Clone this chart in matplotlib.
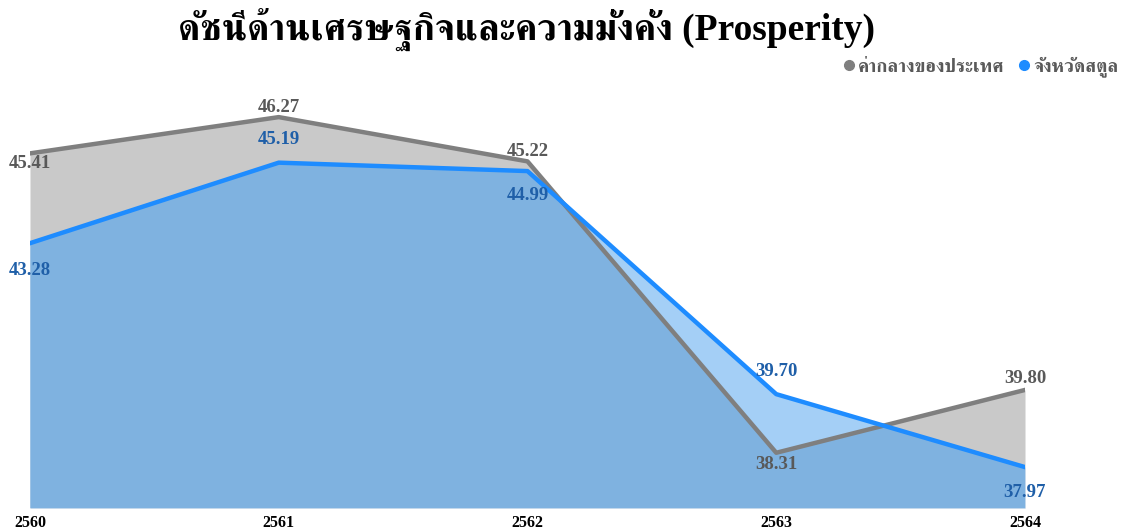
import matplotlib
matplotlib.use("Agg")
import matplotlib.pyplot as plt
from matplotlib import font_manager
from matplotlib.lines import Line2D
import numpy as np

years = ["2560", "2561", "2562", "2563", "2564"]
national = [45.41, 46.27, 45.22, 38.31, 39.80]
satun = [43.28, 45.19, 44.99, 39.70, 37.97]
series_names = ["ค่ากลางของประเทศ", "จังหวัดสตูล"]
title = "ดัชนีด้านเศรษฐกิจและความมั่งคั่ง (Prosperity)"

# find a font with Thai glyphs
thai_font = None
try:
    from fontTools.ttLib import TTFont
    cands = []
    for f in font_manager.fontManager.ttflist:
        try:
            tt = TTFont(f.fname, fontNumber=0, lazy=True)
            cmap = tt.getBestCmap()
            if cmap and 0x0E14 in cmap:
                cands.append(f)
        except Exception:
            pass
    if cands:
        def score(f):
            s = 0
            n = f.name.lower()
            if "serif" in n and "sans" not in n:
                s += 2
            if f.weight in ("bold", 700) or (isinstance(f.weight, int) and f.weight >= 700):
                s += 1
            return -s
        cands.sort(key=score)
        thai_font = cands[0].name
except Exception:
    thai_font = None

serif_fams = ["Liberation Serif"] + ([thai_font] if thai_font else []) + ["DejaVu Sans"]

fig = plt.figure(figsize=(11.25, 5.31), dpi=100)
ax = fig.add_axes([30 / 1125, 1 - 508 / 531, (1025 - 30) / 1125, (508 - 80) / 531])

x = np.arange(len(years))
ymin = 37.0
grey_fill = "#c9c9c9"
light_blue = "#a4cff6"
dark_blue = "#7fb2e0"
grey_line = "#7f7f7f"
blue_line = "#1e8cff"

pg = ax.fill_between(x, ymin, national, color=grey_fill, lw=0, zorder=1)
ax.fill_between(x, ymin, satun, color=light_blue, lw=0, zorder=2)
pd_ = ax.fill_between(x, ymin, satun, color=dark_blue, lw=0, zorder=3)
pd_.set_clip_path(pg.get_paths()[0], ax.transData)

ax.plot(x, national, color=grey_line, lw=3.2, zorder=4, solid_joinstyle="round")
ax.plot(x, satun, color=blue_line, lw=3.2, zorder=5, solid_joinstyle="round")

g_off = [-10, 10, 10, -12, 11]
b_off = [-27, 23, -24, 23, -25]
for i, (v, o) in enumerate(zip(national, g_off)):
    ax.annotate(f"{v:.2f}", (x[i], v), xytext=(0, o), textcoords="offset pixels",
                ha="center", va="center", fontsize=13.5, fontweight="bold",
                color="#595959", family=serif_fams, zorder=6, annotation_clip=False)
for i, (v, o) in enumerate(zip(satun, b_off)):
    ax.annotate(f"{v:.2f}", (x[i], v), xytext=(0, o), textcoords="offset pixels",
                ha="center", va="center", fontsize=13.5, fontweight="bold",
                color="#1f5fa8", family=serif_fams, zorder=6, annotation_clip=False)

ax.set_xlim(0, len(years) - 1)
ax.set_ylim(ymin, 47.15)
ax.set_xticks(x)
ax.set_xticklabels(years, fontsize=11.5, fontweight="bold", family=serif_fams)
ax.tick_params(axis="x", length=0, pad=5)
ax.set_yticks([])
for s in ax.spines.values():
    s.set_visible(False)

fig.text(527 / 1125, 1 - 29 / 531, title, ha="center", va="center",
         fontsize=27, fontweight="bold", family=serif_fams, color="black")

handles = [Line2D([], [], marker="o", ls="", color=grey_line, markersize=7),
           Line2D([], [], marker="o", ls="", color=blue_line, markersize=7)]
leg = fig.legend(handles, series_names, loc="center right",
                 bbox_to_anchor=(1118 / 1125, 1 - 67 / 531), ncol=2, frameon=False,
                 handletextpad=0.0, columnspacing=0.5, handlelength=1.0,
                 borderaxespad=0, borderpad=0,
                 prop={"family": serif_fams, "size": 13.5, "weight": "bold"})
for t in leg.get_texts():
    t.set_color("#595959")

fig.savefig("out.png", dpi=100)
